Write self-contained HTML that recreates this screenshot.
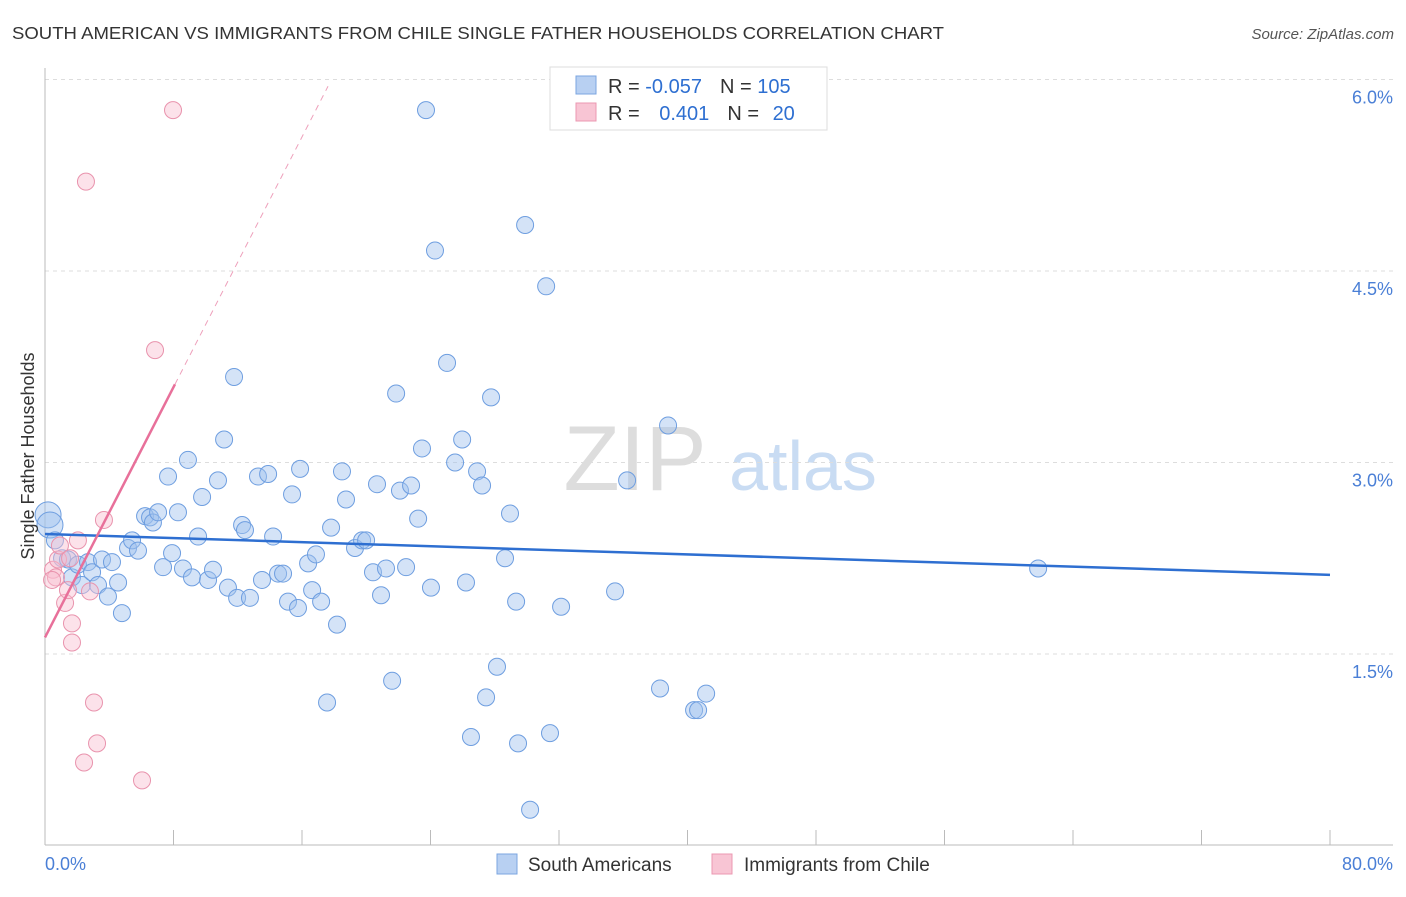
<!DOCTYPE html>
<html><head><meta charset="utf-8"><style>
body{margin:0;background:#fff;font-family:"Liberation Sans",sans-serif;}
svg text{font-family:"Liberation Sans",sans-serif;}
</style></head><body>
<svg id="chart" width="1406" height="892">
<text x="12" y="39" font-size="17.5" fill="#333" textLength="932" lengthAdjust="spacingAndGlyphs">SOUTH AMERICAN VS IMMIGRANTS FROM CHILE SINGLE FATHER HOUSEHOLDS CORRELATION CHART</text>
<text x="1394" y="39" font-size="15" fill="#555" font-style="italic" text-anchor="end">Source: ZipAtlas.com</text>
<g>
<text x="635" y="490" font-size="92" fill="#ddd" font-family="Liberation Serif,serif" text-anchor="middle">ZIP</text>
<text x="803" y="490" font-size="70" fill="#c9dcf3" text-anchor="middle">atlas</text>
</g>
<g id="grid"></g>
<g id="axes"></g>
<g id="marks"></g>
<text transform="translate(34,456) rotate(-90)" font-size="18" fill="#333" text-anchor="middle">Single Father Households</text>
<g>
<rect x="550" y="67" width="277" height="63" fill="#fff" stroke="#ddd"/>
<rect x="576" y="76" width="20" height="18" fill="#b8d0f2" stroke="#7ba6e0"/>
<text x="608" y="93" font-size="20" fill="#333">R = <tspan fill="#2e6fd1">-0.057</tspan><tspan dx="18">N = </tspan><tspan fill="#2e6fd1">105</tspan></text>
<rect x="576" y="103" width="20" height="18" fill="#f8c5d4" stroke="#eb98b2"/>
<text x="608" y="120" font-size="20" fill="#333">R = <tspan dx="14" fill="#2e6fd1">0.401</tspan><tspan dx="18">N = </tspan><tspan dx="8" fill="#2e6fd1">20</tspan></text>
</g>
<g>
<rect x="497" y="854" width="20" height="20" fill="#b8d0f2" stroke="#7ba6e0"/>
<text x="528" y="871" font-size="19" fill="#333">South Americans</text>
<rect x="712" y="854" width="20" height="20" fill="#f8c5d4" stroke="#eb98b2"/>
<text x="744" y="871" font-size="19" fill="#333">Immigrants from Chile</text>
</g>
</svg>
<script>
const yTicks=[1.5,3.0,4.5,6.0];
const yTickLabels=["1.5%","3.0%","4.5%","6.0%"];
const xTickLabels=["0.0%","80.0%"];
const blueX=[0.19,0.31,0.62,1.06,1.43,1.68,2.05,2.30,2.68,2.93,3.30,3.55,3.92,4.17,4.55,4.79,5.17,5.42,5.79,6.23,6.54,6.72,7.04,7.35,7.66,7.91,8.28,8.59,8.90,9.15,9.53,9.78,10.15,10.46,10.77,11.15,11.39,11.77,11.96,12.27,12.45,12.76,13.26,13.51,13.89,14.20,14.51,14.82,15.13,15.38,15.75,15.88,16.38,16.63,16.87,17.19,17.56,17.81,18.18,18.49,18.74,19.30,19.74,19.99,20.42,20.67,20.92,21.23,21.61,21.86,22.10,22.48,22.79,23.23,23.47,23.72,24.03,24.28,25.03,25.53,25.97,26.21,26.52,26.90,27.21,27.46,27.77,28.14,28.64,28.95,29.33,29.45,29.89,30.20,31.20,31.44,32.13,35.49,36.24,38.29,38.79,40.41,40.66,41.16,61.83];
const blueY=[2.59,2.51,2.39,2.25,2.24,2.10,2.20,2.04,2.22,2.14,2.04,2.24,1.95,2.22,2.06,1.82,2.33,2.39,2.31,2.58,2.57,2.53,2.61,2.18,2.89,2.29,2.61,2.17,3.02,2.10,2.42,2.73,2.08,2.16,2.86,3.18,2.02,3.67,1.94,2.51,2.47,1.94,2.89,2.08,2.91,2.42,2.13,2.13,1.91,2.75,1.86,2.95,2.21,2.00,2.28,1.91,1.12,2.49,1.73,2.93,2.71,2.33,2.39,2.39,2.14,2.83,1.96,2.17,1.29,3.54,2.78,2.18,2.82,2.56,3.11,5.76,2.02,4.66,3.78,3.00,3.18,2.06,0.85,2.93,2.82,1.16,3.51,1.40,2.25,2.60,1.91,0.80,4.86,0.28,4.38,0.88,1.87,1.99,2.86,1.23,3.29,1.06,1.06,1.19,2.17];
const pinkX=[0.50,0.68,0.81,0.93,1.25,1.43,1.56,1.68,1.68,2.05,2.43,2.55,2.80,3.05,3.24,3.67,6.04,6.85,7.97,0.44];
const pinkY=[2.16,2.10,2.24,2.35,1.90,2.00,2.25,1.74,1.59,2.39,0.65,5.20,1.99,1.12,0.80,2.55,0.51,3.88,5.76,2.08];
const blueTrend=[2.44,2.12];
const pinkTrend=[1.63,0.245];
const X0=45,X1=1330,Y0=845.5,PXPERY=127.67;
const xs=v=>X0+v/80*(X1-X0);
const ys=v=>Y0-v*PXPERY;
const NS="http://www.w3.org/2000/svg";
function mk(tag,attrs,parent){const e=document.createElementNS(NS,tag);for(const k in attrs)e.setAttribute(k,attrs[k]);parent.appendChild(e);return e;}
const grid=document.getElementById('grid'),axes=document.getElementById('axes'),marks=document.getElementById('marks');
yTicks.forEach((t,i)=>{
 const l=mk('line',{x1:45,x2:1393,y1:ys(t),y2:ys(t),stroke:'#ddd','stroke-dasharray':'4,4'},grid);
 
 
 const tx=mk('text',{x:1393,y:ys(t)+24,'font-size':18,fill:'#4a7fd6','text-anchor':'end'},grid);
 tx.textContent=yTickLabels[i];
 
 
});
const ax=mk('line',{x1:45,x2:1393,y1:845,y2:845,stroke:'#bbb'},axes);


const ay=mk('line',{x1:45,x2:45,y1:68,y2:845,stroke:'#bbb'},axes);


for(let i=0;i<=10;i++){
 const t=mk('line',{x1:xs(i*8),x2:xs(i*8),y1:830,y2:845,stroke:'#bbb'},axes);
 
 
}
[[0,'start',45],[80,'end',1393]].forEach((d,i)=>{
 const tx=mk('text',{x:d[2],y:870,'font-size':18,fill:'#4a7fd6','text-anchor':d[1]},axes);
 tx.textContent=xTickLabels[i];
 
 
});
blueX.forEach((x,i)=>{
 const big=i<2;
 const c=mk('circle',{cx:xs(x),cy:ys(blueY[i]),r:big?13:8.5,fill:'rgba(160,192,238,0.45)',stroke:'#6e9ee0','stroke-width':1},marks);
 
 
});
pinkX.forEach((x,i)=>{
 const c=mk('circle',{cx:xs(x),cy:ys(pinkY[i]),r:8.5,fill:'rgba(248,190,208,0.45)',stroke:'#e993ad','stroke-width':1},marks);
 
 
});
const bl=mk('line',{x1:xs(0),y1:ys(blueTrend[0]),x2:xs(80),y2:ys(blueTrend[1]),stroke:'#2e6fd1','stroke-width':2.5},marks);


const pxEnd=8.09,pxDash=17.62;
const pl=mk('line',{x1:xs(0),y1:ys(pinkTrend[0]),x2:xs(pxEnd),y2:ys(pinkTrend[0]+pinkTrend[1]*pxEnd),stroke:'#e8709a','stroke-width':2.5},marks);


const pd=mk('line',{x1:xs(pxEnd),y1:ys(pinkTrend[0]+pinkTrend[1]*pxEnd),x2:xs(pxDash),y2:ys(pinkTrend[0]+pinkTrend[1]*pxDash),stroke:'#eea0bb','stroke-width':1,'stroke-dasharray':'6,5'},marks);


</script>
</body></html>
